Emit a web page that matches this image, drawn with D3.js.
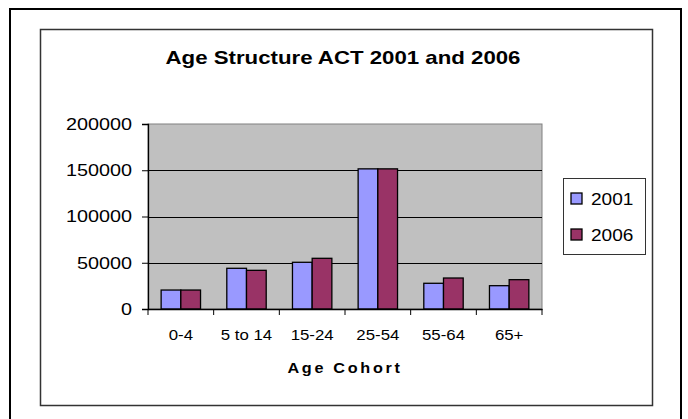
<!DOCTYPE html>
<html><head><meta charset="utf-8">
<script src="https://cdn.jsdelivr.net/npm/d3@7"></script>
<style>
html,body{margin:0;padding:0;background:#fff;}
svg{display:block;}
text{font-family:"Liberation Sans",Arial,sans-serif;fill:#000;}
</style></head>
<body>
<svg id="chart" width="688" height="419"></svg>
<script>
const categories = ["0-4", "5 to 14", "15-24", "25-54", "55-64", "65+"];
const seriesNames = ["2001", "2006"];
const values2001 = [20500, 44000, 50500, 151500, 27800, 25200];
const values2006 = [20500, 41800, 54800, 151500, 33500, 31700];
const yTicks = [0, 50000, 100000, 150000, 200000];
const colors = ["#9999ff", "#993366"];
const titleText = "Age Structure ACT 2001 and 2006";
const xTitle = "Age Cohort";

const svg = d3.select("#chart");
const stretch = (sel, k) => sel.each(function(){
  const L = this.getComputedTextLength();
  this.setAttribute("textLength", L * k);
  this.setAttribute("lengthAdjust", "spacingAndGlyphs");
});

// outer frame (bottom edge off-canvas)
svg.append("path").attr("d", "M10,425 V9 H681 V425")
  .attr("fill", "none").attr("stroke", "#000").attr("stroke-width", 2);
// inner chart box
svg.append("rect").attr("x", 40.5).attr("y", 29.5).attr("width", 612).attr("height", 376)
  .attr("fill", "#fff").attr("stroke", "#333").attr("stroke-width", 1.5);

const plot = {left: 148, right: 542, top: 124, bottom: 309};
const x = d3.scaleBand().domain(categories).range([plot.left, plot.right]);
const x1 = d3.scaleBand().domain(seriesNames).range([x.bandwidth() * 0.2, x.bandwidth() * 0.8]);
const y = d3.scaleLinear().domain([0, 200000]).range([plot.bottom, plot.top]);

// plot area
svg.append("rect").attr("x", plot.left).attr("y", plot.top)
  .attr("width", plot.right - plot.left).attr("height", plot.bottom - plot.top)
  .attr("fill", "#c0c0c0").attr("stroke", "#808080").attr("stroke-width", 1);

// gridlines
svg.append("g").selectAll("line").data(yTicks.filter(d => d > 0 && d < 200000)).join("line")
  .attr("x1", plot.left).attr("x2", plot.right)
  .attr("y1", d => Math.round(y(d)) + 0.5).attr("y2", d => Math.round(y(d)) + 0.5)
  .attr("stroke", "#000").attr("stroke-width", 1);

// bars
const series = [values2001, values2006];
const groups = svg.append("g").selectAll("g").data(seriesNames).join("g")
  .attr("fill", (d, i) => colors[i]);
groups.selectAll("rect").data((s, i) => categories.map((c, j) => ({c, s, v: series[i][j]}))).join("rect")
  .attr("x", d => x(d.c) + x1(d.s))
  .attr("y", d => y(d.v))
  .attr("width", x1.bandwidth())
  .attr("height", d => y(0) - y(d.v))
  .attr("stroke", "#000").attr("stroke-width", 1.3);

// y axis
const yAxis = svg.append("g").attr("transform", `translate(${plot.left},0)`)
  .call(d3.axisLeft(y).tickValues(yTicks).tickSize(6).tickPadding(10).tickFormat(d3.format("d")));
yAxis.select(".domain").attr("stroke", "#000").attr("stroke-width", 1.3);
yAxis.selectAll(".tick line").attr("stroke", "#000");
yAxis.selectAll("text").attr("font-size", 16.5).attr("font-family", "Liberation Sans, Arial, sans-serif").attr("fill", "#000");
stretch(yAxis.selectAll("text"), 1.2);

// x axis
const xAxis = svg.append("g").attr("transform", `translate(0,${plot.bottom})`)
  .call(d3.axisBottom(x).tickSize(0).tickPadding(21));
xAxis.select(".domain").attr("stroke", "#000").attr("stroke-width", 1.3);
xAxis.selectAll("text").attr("font-size", 14).attr("font-family", "Liberation Sans, Arial, sans-serif").attr("fill", "#000");
stretch(xAxis.selectAll("text"), 1.2);
// category boundary ticks
xAxis.append("g").selectAll("line").data(categories.concat(["end"])).join("line")
  .attr("x1", (d, i) => i < categories.length ? x(d) : plot.right)
  .attr("x2", (d, i) => i < categories.length ? x(d) : plot.right)
  .attr("y1", 0).attr("y2", 6).attr("stroke", "#000").attr("stroke-width", 1);

// title
const t = svg.append("text").attr("x", 343).attr("y", 64).attr("text-anchor", "middle")
  .attr("font-size", 19).attr("font-weight", "bold").text(titleText);
stretch(t, 1.17);

// x-axis title
const xt = svg.append("text").attr("x", 345).attr("y", 373).attr("text-anchor", "middle")
  .attr("font-size", 15).attr("font-weight", "bold").attr("letter-spacing", 2.5).text(xTitle);
stretch(xt, 1.08);

// legend
const lg = svg.append("g");
lg.append("rect").attr("x", 563.5).attr("y", 178.5).attr("width", 82).attr("height", 76)
  .attr("fill", "#fff").attr("stroke", "#333").attr("stroke-width", 1);
const items = lg.selectAll("g.item").data(seriesNames).join("g").attr("class", "item")
  .attr("transform", (d, i) => `translate(571,${193 + i * 36})`);
items.append("rect").attr("width", 11).attr("height", 11)
  .attr("fill", (d, i) => colors[i]).attr("stroke", "#000").attr("stroke-width", 1.3);
const lt = items.append("text").attr("x", 20).attr("y", 11.5).attr("font-size", 17).text(d => d);
stretch(lt, 1.12);
</script>
</body></html>
